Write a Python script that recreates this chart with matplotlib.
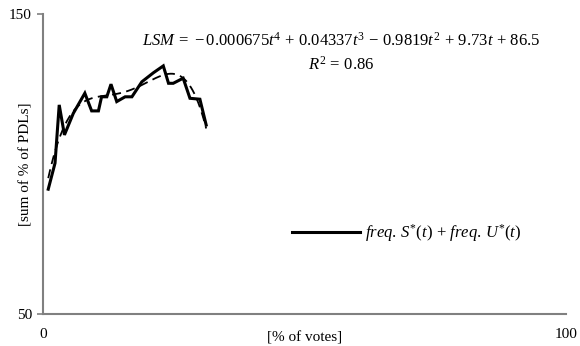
import matplotlib.pyplot as plt
import numpy as np

plt.rcParams['font.family'] = ['Liberation Serif', 'DejaVu Serif']
plt.rcParams['mathtext.fontset'] = 'custom'
plt.rcParams['mathtext.rm'] = 'Liberation Serif'
plt.rcParams['mathtext.it'] = 'Liberation Serif:italic'

# [% of votes] vs [sum of % of PDLs]
votes = [1.0, 2.3, 3.1, 4.1, 5.8, 8.0, 9.3, 10.6, 11.2, 12.2, 13.0, 14.1,
         15.7, 17.0, 18.9, 21.1, 23.0, 24.0, 24.9, 26.8, 28.1, 30.0, 31.2]
pdl_sum = [91.6, 100.3, 119.7, 109.7, 116.9, 123.6, 117.7, 117.7, 122.4, 122.4,
           126.6, 120.8, 122.4, 122.4, 127.4, 130.4, 132.7, 126.9, 126.9, 128.6,
           121.9, 121.6, 113.0]

# trendline coefficients as printed on the chart
lsm_coef = [-0.000675, 0.04337, -0.9819, 9.73, 86.5]

fig = plt.figure(figsize=(5.8, 3.46), dpi=100)
ax = fig.add_axes([43 / 580, 1 - 314 / 346, 523 / 580, 300 / 346])

ax.plot(votes, pdl_sum, color='black', lw=2.2, solid_joinstyle='miter',
        label=r'$freq.\,S^{*}(t)\,+\,freq.\,U^{*}(t)$')
tt = np.linspace(votes[0], votes[-1], 200)
ax.plot(tt, np.polyval(lsm_coef, tt), color='black', lw=1.3, ls=(0, (5, 3)))

ax.set_xlim(0, 100)
ax.set_ylim(50, 150)
ax.set_xticks([0, 100])
ax.set_yticks([50, 150])
ax.tick_params(labelsize=11, color='#808080', length=4, width=1.2, pad=4)
ax.tick_params(axis='x', length=0, pad=10)
for s in ['top', 'right']:
    ax.spines[s].set_visible(False)
for s in ['left', 'bottom']:
    ax.spines[s].set_color('#808080')
    ax.spines[s].set_linewidth(1.5)

ax.set_xlabel('[% of votes]', fontsize=11, labelpad=-7)
ax.set_ylabel('[sum of % of PDLs]', fontsize=11)
ax.yaxis.set_label_coords(-0.021, 0.5)

ax.text(0.57, 0.91,
        r'$LSM\,=\,-0.000675t^4\,+\,0.04337t^3\,-\,0.9819t^2\,+\,9.73t\,+\,86.5$',
        transform=ax.transAxes, ha='center', va='center', fontsize=12)
ax.text(0.57, 0.83, r'$R^2\,=\,0.86$', transform=ax.transAxes,
        ha='center', va='center', fontsize=12)

ax.legend(loc='center left', bbox_to_anchor=(0.447, 0.27), frameon=False,
          fontsize=12, handlelength=4.1, handletextpad=0.3)

fig.savefig('out.png', dpi=100)
